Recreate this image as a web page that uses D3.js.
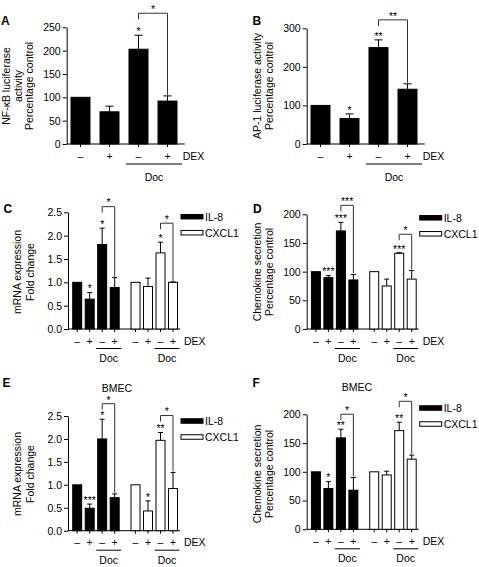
<!DOCTYPE html>
<html><head><meta charset="utf-8">
<script src="https://cdn.jsdelivr.net/npm/d3@7"></script>
<style>
body{margin:0;background:#fff}
svg{display:block}
text{font-family:"Liberation Sans",Arial,Helvetica,sans-serif;fill:#000}
</style>
</head><body>
<svg id="chart" width="479" height="567"></svg>
<script>
// ---------- data ----------
const conditions = ["ctrl", "dex", "doc", "docdex"];
const dexLabels = ["–", "+", "–", "+"];
const groupNames = ["IL-8", "CXCL1"];

// Panel A: NF-kB luciferase activity
const aValues = [100, 69, 203, 92];
const aErrors = [0, 12, 30, 11];
const aStars = ["", "", "*", ""];
const aBracketStar = "*";
const aTicks = [0, 50, 100, 150, 200, 250];

// Panel B: AP-1 luciferase activity
const bValues = [100, 66, 250, 142];
const bErrors = [0, 12, 20, 14];
const bStars = ["", "*", "**", ""];
const bBracketStar = "**";
const bTicks = [0, 100, 200, 300];

// Panel C: mRNA expression
const cIL8 = [1.0, 0.64, 1.81, 0.89];
const cIL8Err = [0, 0.14, 0.35, 0.21];
const cIL8Stars = ["", "*", "*", ""];
const cCXCL1 = [1.0, 0.91, 1.63, 1.0];
const cCXCL1Err = [0, 0.18, 0.23, 0.01];
const cCXCL1Stars = ["", "", "*", ""];
const cBracketStars = ["*", "*"];

// Panel D: chemokine secretion
const dIL8 = [100, 89.5, 171, 85.5];
const dIL8Err = [0, 3.5, 15, 9.5];
const dIL8Stars = ["", "***", "***", ""];
const dCXCL1 = [100, 75, 132, 87];
const dCXCL1Err = [0, 12, 1, 15];
const dCXCL1Stars = ["", "", "***", ""];
const dBracketStars = ["***", "*"];

// Panel E: BMEC mRNA expression
const eIL8 = [1.0, 0.49, 2.0, 0.72];
const eIL8Err = [0, 0.09, 0.43, 0.08];
const eIL8Stars = ["", "***", "*", ""];
const eCXCL1 = [1.0, 0.43, 1.97, 0.92];
const eCXCL1Err = [0, 0.22, 0.17, 0.35];
const eCXCL1Stars = ["", "*", "**", ""];
const eBracketStars = ["*", "*"];

// Panel F: BMEC chemokine secretion
const fIL8 = [100, 71, 159, 68];
const fIL8Err = [0, 12, 15, 22];
const fIL8Stars = ["", "*", "**", ""];
const fCXCL1 = [100, 94.5, 171.6, 122];
const fCXCL1Err = [0, 6.5, 14.5, 7];
const fCXCL1Stars = ["", "", "**", ""];
const fBracketStars = ["*", "*"];

const foldTicks = [0, 0.5, 1.0, 1.5, 2.0, 2.5];
const pctTicks = [0, 50, 100, 150, 200];

// ---------- drawing ----------
const svg = d3.select("#chart");
const FS = 10.5;
const ink = "#000";

function panel(o) {
  const g = svg.append("g");
  const y = d3.scaleLinear().domain([0, o.max]).range([o.y0, o.yTop]);
  const single = o.groups.length === 1;

  // y axis
  const ya = d3.axisLeft(y).tickValues(o.ticks).tickSize(4).tickSizeOuter(0)
    .tickPadding(2).tickFormat(o.fmt);
  const yg = g.append("g").attr("transform", `translate(${o.ax},0)`).call(ya);
  yg.select(".domain").attr("stroke", ink).attr("stroke-width", 1);
  yg.selectAll(".tick line").attr("stroke", ink);
  yg.selectAll(".tick text").attr("font-size", FS)
    .attr("font-family", '"Liberation Sans",Arial,sans-serif').attr("fill", ink);

  // x scales
  const xg = d3.scaleBand().domain(o.groups.map(d => d.name))
    .range(single ? [o.ax + 4.3, o.ax + 110.3] : [o.ax + 4.7, o.ax + 109.5])
    .paddingInner(single ? 0 : 0.203).paddingOuter(0);
  const xb = d3.scaleBand().domain(conditions).range([0, xg.bandwidth()])
    .paddingInner(single ? 0.345 : 0.28).paddingOuter(0);
  const bw = xb.bandwidth();
  const capW = single ? 8 : 5;

  // x axis line
  g.append("line").attr("x1", o.ax).attr("x2", o.ax + (single ? 118 : 112))
    .attr("y1", o.y0).attr("y2", o.y0).attr("stroke", ink);

  o.groups.forEach((gr, gi) => {
    const gx = xg(gr.name);
    const cx = c => gx + xb(c) + bw / 2;
    const data = conditions.map((c, i) => ({c, v: gr.values[i], e: gr.errors[i], s: gr.stars[i], lab: dexLabels[i]}));

    // bars
    g.selectAll(null).data(data).enter().append("rect")
      .attr("x", d => gx + xb(d.c)).attr("width", bw)
      .attr("y", d => y(d.v)).attr("height", d => o.y0 - y(d.v))
      .attr("fill", gr.fill).attr("stroke", ink).attr("stroke-width", 1);

    // error bars
    const eb = data.filter(d => d.e > 0);
    g.selectAll(null).data(eb).enter().append("line")
      .attr("x1", d => cx(d.c)).attr("x2", d => cx(d.c))
      .attr("y1", d => y(d.v)).attr("y2", d => y(d.v + d.e)).attr("stroke", ink);
    g.selectAll(null).data(eb).enter().append("line")
      .attr("x1", d => cx(d.c) - capW / 2).attr("x2", d => cx(d.c) + capW / 2)
      .attr("y1", d => y(d.v + d.e)).attr("y2", d => y(d.v + d.e)).attr("stroke", ink);

    // stars above bars
    g.selectAll(null).data(data.filter(d => d.s)).enter().append("text")
      .attr("x", d => cx(d.c)).attr("y", d => y(d.v + d.e) - 6 + 5.8)
      .attr("text-anchor", "middle").attr("font-size", 10.5).text(d => d.s);

    // bracket between Doc and Doc+DEX
    const d3b = data[2], d4b = data[3];
    const yb = y(d3b.v + d3b.e) - o.brGap[gi];
    const x3 = cx(d3b.c), x4 = cx(d4b.c);
    g.append("path")
      .attr("d", `M${x3},${yb + 6}V${yb}H${x4}V${y(d4b.v + d4b.e) - 1}`)
      .attr("fill", "none").attr("stroke", "#333").attr("stroke-width", 1);
    g.append("text").attr("x", (x3 + x4) / 2).attr("y", yb - 6 + 5.8)
      .attr("text-anchor", "middle").attr("font-size", 10.5).text(gr.bracketStar);

    // x ticks and DEX labels
    g.selectAll(null).data(data).enter().append("line")
      .attr("x1", d => cx(d.c)).attr("x2", d => cx(d.c))
      .attr("y1", o.y0).attr("y2", o.y0 + 3).attr("stroke", ink);
    g.selectAll(null).data(data).enter().append("text")
      .attr("x", d => cx(d.c)).attr("y", o.y0 + 15.5)
      .attr("text-anchor", "middle").attr("font-size", FS).text(d => d.lab);

    // Doc underline
    const docY = o.y0 + (single ? 20 : 19.5);
    const l1 = gx + xb(conditions[2]) - (single ? 3 : 1.5);
    const l2 = gx + xb(conditions[3]) + bw + (single ? 5 : 2);
    g.append("line").attr("x1", l1).attr("x2", l2).attr("y1", docY).attr("y2", docY)
      .attr("stroke", ink);
    g.append("text").attr("x", (l1 + l2) / 2).attr("y", o.y0 + (single ? 37 : 33))
      .attr("text-anchor", "middle").attr("font-size", FS).text("Doc");
  });

  g.append("text").attr("x", o.ax + 116).attr("y", o.y0 + 15.5)
    .attr("font-size", FS).text("DEX");

  // legend
  if (!single) {
    o.groups.forEach((gr, i) => {
      const cy = o.y0 + o.legOff + i * 16;
      g.append("rect").attr("x", o.ax + 113).attr("y", cy - 2.25)
        .attr("width", 22).attr("height", 4.5)
        .attr("fill", gr.fill).attr("stroke", ink).attr("stroke-width", 1);
      g.append("text").attr("x", o.ax + 137).attr("y", cy + 3.8)
        .attr("font-size", FS).text(gr.name);
    });
  }

  // y label
  o.ylab.forEach((t, i) => {
    g.append("text")
      .attr("transform", `translate(${o.ylabX[i]},${o.ylabY}) rotate(-90)`)
      .attr("text-anchor", "middle").attr("font-size", FS).text(t);
  });

  // panel letter
  g.append("text").attr("x", o.letterX).attr("y", o.letterY)
    .attr("font-size", 12).attr("font-weight", "bold").text(o.letter);

  if (o.title) {
    g.append("text").attr("x", o.title[1]).attr("y", o.title[2])
      .attr("text-anchor", "middle").attr("font-size", FS).text(o.title[0]);
  }
}

const fmtInt = d3.format("d");
const fmtFold = d3.format(".1f");

panel({letter: "A", letterX: 1, letterY: 25, ax: 66.7, y0: 144, yTop: 27.3, max: 250,
  ticks: aTicks, fmt: fmtInt, brGap: [22],
  groups: [{name: "all", values: aValues, errors: aErrors, stars: aStars, bracketStar: aBracketStar, fill: "#000"}],
  ylab: ["NF-κB luciferase", "activity", "Percentage control"], ylabX: [10, 21.5, 33], ylabY: 86});

panel({letter: "B", letterX: 252.5, letterY: 24.5, ax: 306.7, y0: 144, yTop: 28.3, max: 300,
  ticks: bTicks, fmt: fmtInt, brGap: [20],
  groups: [{name: "all", values: bValues, errors: bErrors, stars: bStars, bracketStar: bBracketStar, fill: "#000"}],
  ylab: ["AP-1 luciferase activity", "Percentage control"], ylabX: [261, 273], ylabY: 86});

panel({letter: "C", letterX: 3.5, letterY: 213, ax: 68, y0: 329, yTop: 212.3, max: 2.5,
  ticks: foldTicks, fmt: fmtFold, legOff: -112.3, brGap: [21.5, 19],
  groups: [
    {name: groupNames[0], values: cIL8, errors: cIL8Err, stars: cIL8Stars, bracketStar: cBracketStars[0], fill: "#000"},
    {name: groupNames[1], values: cCXCL1, errors: cCXCL1Err, stars: cCXCL1Stars, bracketStar: cBracketStars[1], fill: "#fff"}],
  ylab: ["mRNA expression", "Fold change"], ylabX: [21.3, 34], ylabY: 272});

panel({letter: "D", letterX: 253, letterY: 213, ax: 306.7, y0: 329, yTop: 214.3, max: 200,
  ticks: pctTicks, fmt: fmtInt, legOff: -111.2, brGap: [17, 18.5],
  groups: [
    {name: groupNames[0], values: dIL8, errors: dIL8Err, stars: dIL8Stars, bracketStar: dBracketStars[0], fill: "#000"},
    {name: groupNames[1], values: dCXCL1, errors: dCXCL1Err, stars: dCXCL1Stars, bracketStar: dBracketStars[1], fill: "#fff"}],
  ylab: ["Chemokine secretion", "Percentage control"], ylabX: [260.7, 272.7], ylabY: 272});

panel({letter: "E", letterX: 2.5, letterY: 387, ax: 68, y0: 530.7, yTop: 416, max: 2.5,
  ticks: foldTicks, fmt: fmtFold, legOff: -109.7, brGap: [15.5, 17], title: ["BMEC", 117, 392],
  groups: [
    {name: groupNames[0], values: eIL8, errors: eIL8Err, stars: eIL8Stars, bracketStar: eBracketStars[0], fill: "#000"},
    {name: groupNames[1], values: eCXCL1, errors: eCXCL1Err, stars: eCXCL1Stars, bracketStar: eBracketStars[1], fill: "#fff"}],
  ylab: ["mRNA expression", "Fold change"], ylabX: [21.3, 34], ylabY: 474});

panel({letter: "F", letterX: 252.5, letterY: 386.5, ax: 306.7, y0: 529.3, yTop: 414.3, max: 200,
  ticks: pctTicks, fmt: fmtInt, legOff: -121.3, brGap: [15, 21], title: ["BMEC", 357, 390.5],
  groups: [
    {name: groupNames[0], values: fIL8, errors: fIL8Err, stars: fIL8Stars, bracketStar: fBracketStars[0], fill: "#000"},
    {name: groupNames[1], values: fCXCL1, errors: fCXCL1Err, stars: fCXCL1Stars, bracketStar: fBracketStars[1], fill: "#fff"}],
  ylab: ["Chemokine secretion", "Percentage control"], ylabX: [260.7, 272.7], ylabY: 474});
</script>
</body></html>
